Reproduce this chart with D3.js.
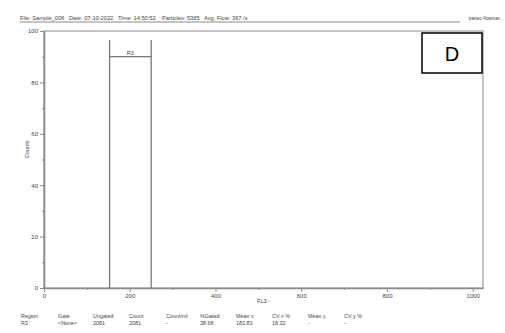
<!DOCTYPE html>
<html>
<head>
<meta charset="utf-8">
<script src="https://cdn.jsdelivr.net/npm/d3@7"></script>
<style>
  html, body { margin: 0; padding: 0; background: #fff; }
  svg { display: block; font-family: 'Liberation Sans', Arial, sans-serif; }
</style>
</head>
<body>
<svg id="chart" width="505" height="333"></svg>
<script>
const headerText = 'File: Sample_008   Date: 07-10-2022   Time: 14:50:52    Particles: 5385   Avg. Flow: 367 /s';
const headerRight = 'partec-flowmax';
const xLabel = 'FL3 -';
const yLabel = 'Counts';
const xTicks = [0, 200, 400, 600, 800, 1000];
const xMinor = [100, 300, 500, 700, 900];
const yTicks = [0, 20, 40, 60, 80, 100];
const yMinor = [10, 30, 50, 70, 90];
const gateName = 'R3';
const gateRange = [153, 250];
const gateLevel = 90;
const gateTop = 96.5;
const tableHead = ['Region', 'Gate', 'Ungated', 'Count', 'Count/ml', '%Gated', 'Mean x', 'CV x %', 'Mean y', 'CV y %'];
const tableRow = ['R3', '<None>', '2081', '2081', '-', '38.68', '183.83', '18.32', '-', '-'];
const panelLetter = 'D';

const svg = d3.select('#chart');
const M = { left: 44, right: 22, top: 31, bottom: 45 };
const W = 505, H = 333;
const iw = W - M.left - M.right;
const ih = H - M.top - M.bottom;
const grey = '#8a8a8a';
const txt = '#444';

const x = d3.scaleLinear().domain([0, 1024]).range([0, iw]);
const y = d3.scaleLinear().domain([0, 100]).range([ih, 0]);

// header
svg.append('text').attr('x', 20).attr('y', 20).attr('font-size', 5.7).attr('fill', txt)
  .style('white-space', 'pre').text(headerText);
svg.append('line').attr('x1', 20).attr('x2', 460).attr('y1', 22).attr('y2', 22)
  .attr('stroke', grey).attr('stroke-width', 1.2);
svg.append('text').attr('x', 500).attr('y', 20).attr('text-anchor', 'end')
  .attr('font-size', 4.6).attr('fill', txt).text(headerRight);

const g = svg.append('g').attr('transform', `translate(${M.left},${M.top})`);

// frame
g.append('rect').attr('width', iw).attr('height', ih)
  .attr('fill', 'none').attr('stroke', '#aaa').attr('stroke-width', 1.4);

function styleAxis(sel) {
  sel.select('.domain').attr('stroke', grey).attr('stroke-width', 1.6);
  sel.selectAll('.tick line').attr('stroke', grey).attr('stroke-width', 1);
  sel.selectAll('.tick text').attr('fill', txt).attr('font-size', 6).attr('font-family', "'Liberation Sans', Arial, sans-serif");
}

g.append('g').attr('transform', `translate(0,${ih})`)
  .call(d3.axisBottom(x).tickValues(xTicks).tickFormat(d3.format('d')).tickSize(4).tickPadding(2).tickSizeOuter(0))
  .call(styleAxis);
g.append('g').attr('transform', `translate(0,${ih})`)
  .call(d3.axisBottom(x).tickValues(xMinor).tickSize(2).tickFormat('').tickSizeOuter(0))
  .call(sel => sel.select('.domain').remove())
  .call(sel => sel.selectAll('.tick line').attr('stroke', grey));

g.append('g')
  .call(d3.axisLeft(y).tickValues(yTicks).tickSize(4).tickPadding(2).tickSizeOuter(0))
  .call(styleAxis);
g.append('g')
  .call(d3.axisLeft(y).tickValues(yMinor).tickSize(2).tickFormat('').tickSizeOuter(0))
  .call(sel => sel.select('.domain').remove())
  .call(sel => sel.selectAll('.tick line').attr('stroke', grey));

// axis titles
svg.append('text').attr('x', M.left + x(512)).attr('y', 303).attr('text-anchor', 'middle')
  .attr('font-size', 5.5).attr('fill', txt).text(xLabel);
svg.append('text').attr('transform', `translate(29,${M.top + y(54)}) rotate(-90)`)
  .attr('text-anchor', 'middle').attr('font-size', 5.5).attr('fill', txt).text(yLabel);

// gate
const gate = g.append('g').attr('stroke', '#777').attr('stroke-width', 1.3);
gateRange.forEach(v => {
  gate.append('line').attr('x1', x(v)).attr('x2', x(v)).attr('y1', y(gateTop)).attr('y2', y(0));
});
gate.append('line').attr('x1', x(gateRange[0])).attr('x2', x(gateRange[1]))
  .attr('y1', y(gateLevel)).attr('y2', y(gateLevel));
g.append('text').attr('x', x((gateRange[0] + gateRange[1]) / 2)).attr('y', y(gateLevel) - 1.5)
  .attr('text-anchor', 'middle').attr('font-size', 5.5).attr('fill', txt).text(gateName);

// panel letter box
g.append('rect').attr('x', iw - 61).attr('y', 2).attr('width', 60).attr('height', 40)
  .attr('fill', '#fff').attr('stroke', '#000').attr('stroke-width', 1.5);
g.append('text').attr('x', iw - 31).attr('y', 30).attr('text-anchor', 'middle')
  .attr('font-family', "'Liberation Sans', Arial, sans-serif")
  .attr('font-size', 20).attr('fill', '#000').text(panelLetter);

// stats table
const colX = [21, 58, 93, 129, 166, 200, 236, 272, 308, 344];
tableHead.forEach((t, i) => {
  svg.append('text').attr('x', colX[i]).attr('y', 318).attr('font-size', 5.4).attr('fill', txt).text(t);
  svg.append('text').attr('x', colX[i]).attr('y', 325).attr('font-size', 5.4).attr('fill', txt).text(tableRow[i]);
});
</script>
</body>
</html>
